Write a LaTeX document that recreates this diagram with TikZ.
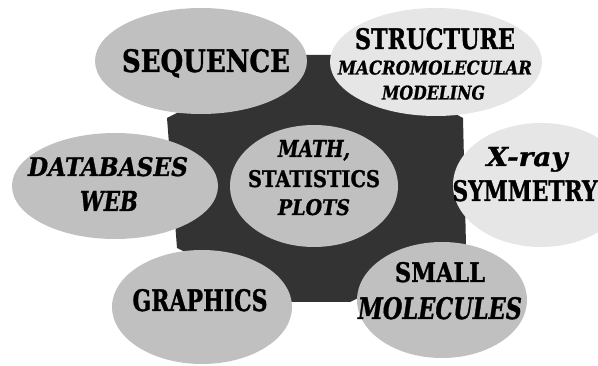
\documentclass[tikz,border=0pt]{standalone}
\usepackage{fontspec}
\newfontfamily\slabfont{DejaVu Serif}[BoldFeatures={FakeBold=1.2},BoldItalicFeatures={FakeBold=1.2}]
\usetikzlibrary{shapes.geometric}
\definecolor{blobgray}{RGB}{192,192,192}
\definecolor{lightgray2}{RGB}{230,230,230}
\definecolor{darkgear}{RGB}{51,51,51}
\newcommand\fitlab[3]{\resizebox{#1pt}{#2pt}{#3}}
\tikzset{
  blob/.style={ellipse, fill=blobgray, draw=none, inner sep=0pt},
  lightblob/.style={blob, fill=lightgray2},
  lab/.style={anchor=base, inner sep=0pt, font=\slabfont\bfseries},
  ilab/.style={anchor=base, inner sep=0pt, font=\slabfont\bfseries\itshape},
}
\begin{document}
\begin{tikzpicture}[x=1pt,y=-1pt]
\useasboundingbox (0,0) rectangle (598,366);
% dark gear shape
\fill[darkgear] (167,118) -- (292,55) -- (345,55) -- (463,118) -- (466,245)
  -- (350,302) -- (285,302) -- (177,248) -- cycle;
% ellipses
\node[blob, minimum width=212pt, minimum height=106pt] (seq) at (201,61) {};
\node[lightblob, minimum width=212pt, minimum height=108pt] (struct) at (436,62) {};
\node[blob, minimum width=206pt, minimum height=106pt] (db) at (115,186) {};
\node[blob, minimum width=168pt, minimum height=122pt] (math) at (314,186) {};
\node[lightblob, minimum width=176pt, minimum height=124pt] (xray) at (541,185) {};
\node[blob, minimum width=180pt, minimum height=114pt] (graph) at (202,307) {};
\node[blob, minimum width=170pt, minimum height=116pt] (small) at (442,300) {};
% labels
\node[lab] (seqA) at (206,72) {\fitlab{168}{23}{SEQUENCE}};
\node[lab] (structA) at (435,49) {\fitlab{160}{21}{STRUCTURE}};
\node[ilab] (structB) at (435,74.5) {\fitlab{194}{14}{MACROMOLECULAR}};
\node[ilab] (structC) at (433.5,99.5) {\fitlab{103}{14}{MODELING}};
\node[ilab] (dbA) at (108,176) {\fitlab{160}{19}{DATABASES}};
\node[ilab] (dbB) at (109,211) {\fitlab{58}{20}{WEB}};
\node[ilab] (mathA) at (314,157) {\fitlab{72}{17}{MATH,}};
\node[lab] (mathB) at (314,187) {\fitlab{132}{17}{STATISTICS}};
\node[ilab] (mathC) at (314,215) {\fitlab{72}{16}{PLOTS}};
\node[ilab] (xrayA) at (527,166) {\fitlab{81}{19}{X-ray}};
\node[lab] (xrayB) at (525,201) {\fitlab{145}{21}{SYMMETRY}};
\node[lab] (graphA) at (200,311) {\fitlab{135}{22}{GRAPHICS}};
\node[lab] (smallA) at (440,282) {\fitlab{90}{20}{SMALL}};
\node[ilab] (smallB) at (440,319) {\fitlab{164}{22}{MOLECULES}};
\end{tikzpicture}
\end{document}
